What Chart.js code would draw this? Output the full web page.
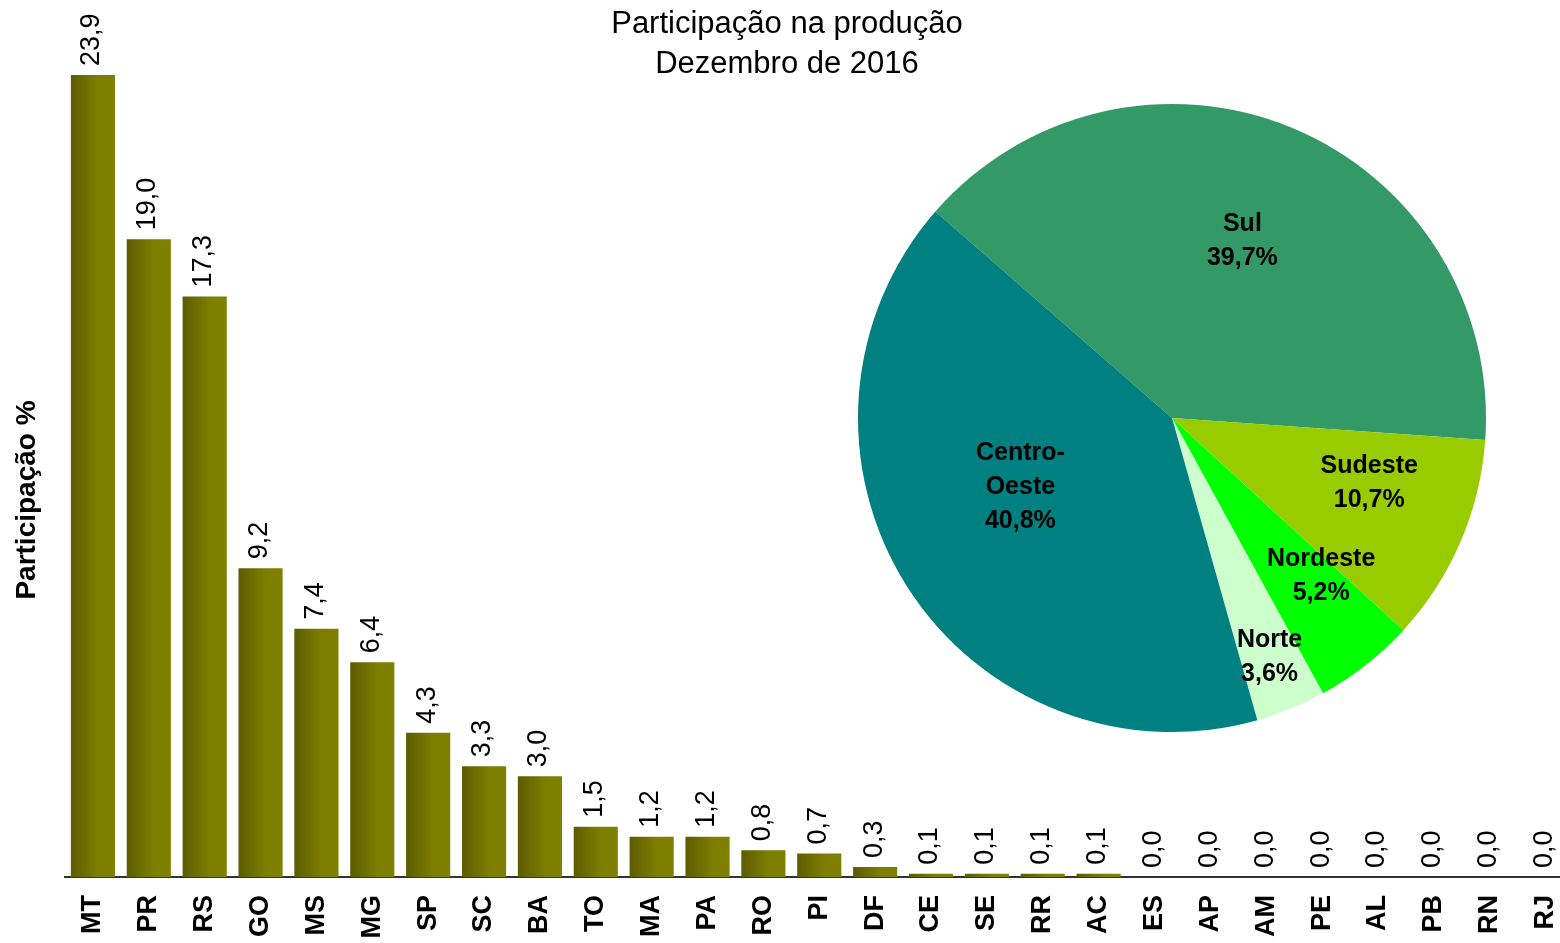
<!DOCTYPE html>
<html>
<head>
<meta charset="utf-8">
<script src="https://cdn.jsdelivr.net/npm/chart.js@4"></script>
<style>
  body { margin: 0; overflow: hidden; background: #fff; font-family: "Liberation Sans", Arial, sans-serif; }
  #wrap { position: relative; width: 1560px; height: 943px; overflow: hidden; }
  #barChart { position: absolute; left: 0; top: 0; }
  #pieChart { position: absolute; left: 850px; top: 96px; }
  #titulo { position: absolute; left: 0; top: 3px; width: 1574px; text-align: center;
            font-size: 31px; line-height: 40px; color: #000; }
</style>
</head>
<body>
<div id="wrap">
  <canvas id="barChart" width="1596" height="943"></canvas>
  <canvas id="pieChart" width="644" height="644"></canvas>
  <div id="titulo">Participação na produção<br>Dezembro de 2016</div>
</div>
<script>
// dados do gráfico de barras (participação por estado, %)
const estados = ['MT', 'PR', 'RS', 'GO', 'MS', 'MG', 'SP', 'SC', 'BA', 'TO', 'MA', 'PA', 'RO', 'PI',
    'DF', 'CE', 'SE', 'RR', 'AC', 'ES', 'AP', 'AM', 'PE', 'AL', 'PB', 'RN', 'RJ'];
const participacao = [23.9, 19.0, 17.3, 9.2, 7.4, 6.4, 4.3, 3.3, 3.0, 1.5, 1.2, 1.2, 0.8, 0.7,
    0.3, 0.1, 0.1, 0.1, 0.1, 0.0, 0.0, 0.0, 0.0, 0.0, 0.0, 0.0, 0.0];

// dados da pizza (participação por região, %)
const regioes = ['Sul', 'Sudeste', 'Nordeste', 'Norte', 'Centro-Oeste'];
const regioesRotulo = [['Sul'], ['Sudeste'], ['Nordeste'], ['Norte'], ['Centro-', 'Oeste']];
const participacaoRegiao = [39.7, 10.7, 5.2, 3.6, 40.8];
const coresRegiao = ['#339966', '#99cc00', '#00ff00', '#ccffcc', '#008080'];

const fonte = '"Liberation Sans", Arial, sans-serif';

function formatar(v) {
    return v.toFixed(1).replace('.', ',');
}

// gradiente horizontal em cada barra
function corBarra(context) {
    const chart = context.chart;
    if (!chart.chartArea) return '#808000';
    const x = chart.scales.x.getPixelForValue(context.dataIndex);
    const g = chart.ctx.createLinearGradient(x - 22, 0, x + 22, 0);
    g.addColorStop(0, '#5c5c00');
    g.addColorStop(0.6, '#7d7d00');
    g.addColorStop(1, '#808000');
    return g;
}

// rótulos de valor (verticais) acima das barras + título do eixo Y
const rotulosBarras = {
    id: 'rotulosBarras',
    afterDatasetsDraw(chart) {
        const ctx = chart.ctx;
        const meta = chart.getDatasetMeta(0);
        ctx.save();
        ctx.fillStyle = '#000';
        ctx.font = '27px ' + fonte;
        ctx.textAlign = 'left';
        ctx.textBaseline = 'middle';
        meta.data.forEach((bar, i) => {
            ctx.save();
            ctx.translate(bar.x - 1, bar.y - 9);
            ctx.rotate(-Math.PI / 2);
            ctx.fillText(formatar(participacao[i]), 0, 0);
            ctx.restore();
        });
        ctx.translate(27, 500);
        ctx.rotate(-Math.PI / 2);
        ctx.textAlign = 'center';
        ctx.font = 'bold 28px ' + fonte;
        ctx.fillText('Participação %', 0, 0);
        ctx.restore();
    }
};

new Chart(document.getElementById('barChart'), {
    type: 'bar',
    data: {
        labels: estados,
        datasets: [{
            data: participacao,
            backgroundColor: corBarra,
            borderWidth: 0,
            categoryPercentage: 1,
            barPercentage: 0.79
        }]
    },
    options: {
        responsive: false,
        animation: false,
        events: [],
        layout: { padding: { left: 65, top: 38, right: 0, bottom: 0 } },
        plugins: { legend: { display: false }, tooltip: { enabled: false } },
        scales: {
            x: {
                grid: { display: false, drawTicks: false },
                border: { display: true, color: '#333', width: 2 },
                ticks: {
                    autoSkip: false,
                    minRotation: 90,
                    maxRotation: 90,
                    padding: 18,
                    color: '#000',
                    font: { family: fonte, size: 27, weight: 'bold' }
                },
                afterFit(scale) { scale.height = 66; }
            },
            y: {
                display: false,
                min: 0,
                max: 25
            }
        }
    },
    plugins: [rotulosBarras]
});

// rótulos dentro das fatias da pizza
const raioRotulo = [0.61, 0.66, 0.69, 0.82, 0.53];
const desvioAngulo = [-1, -5.4, -5.4, 0, 8];

const rotulosPizza = {
    id: 'rotulosPizza',
    afterDatasetsDraw(chart) {
        const ctx = chart.ctx;
        const meta = chart.getDatasetMeta(0);
        ctx.save();
        ctx.fillStyle = '#000';
        ctx.font = 'bold 25px ' + fonte;
        ctx.textAlign = 'center';
        ctx.textBaseline = 'middle';
        meta.data.forEach((arc, i) => {
            const meio = (arc.startAngle + arc.endAngle) / 2 + desvioAngulo[i] * Math.PI / 180;
            const r = arc.outerRadius * raioRotulo[i];
            const cx = arc.x + Math.cos(meio) * r;
            const cy = arc.y + Math.sin(meio) * r + 1;
            const linhas = regioesRotulo[i].concat([formatar(participacaoRegiao[i]) + '%']);
            const alt = 34;
            linhas.forEach((t, k) => {
                ctx.fillText(t, cx, cy + (k - (linhas.length - 1) / 2) * alt);
            });
        });
        ctx.restore();
    }
};

new Chart(document.getElementById('pieChart'), {
    type: 'pie',
    data: {
        labels: regioes,
        datasets: [{
            data: participacaoRegiao,
            backgroundColor: coresRegiao,
            borderWidth: 0
        }]
    },
    options: {
        responsive: false,
        animation: false,
        events: [],
        rotation: -48.9,
        layout: { padding: 8 },
        plugins: { legend: { display: false }, tooltip: { enabled: false } }
    },
    plugins: [rotulosPizza]
});
</script>
</body>
</html>
